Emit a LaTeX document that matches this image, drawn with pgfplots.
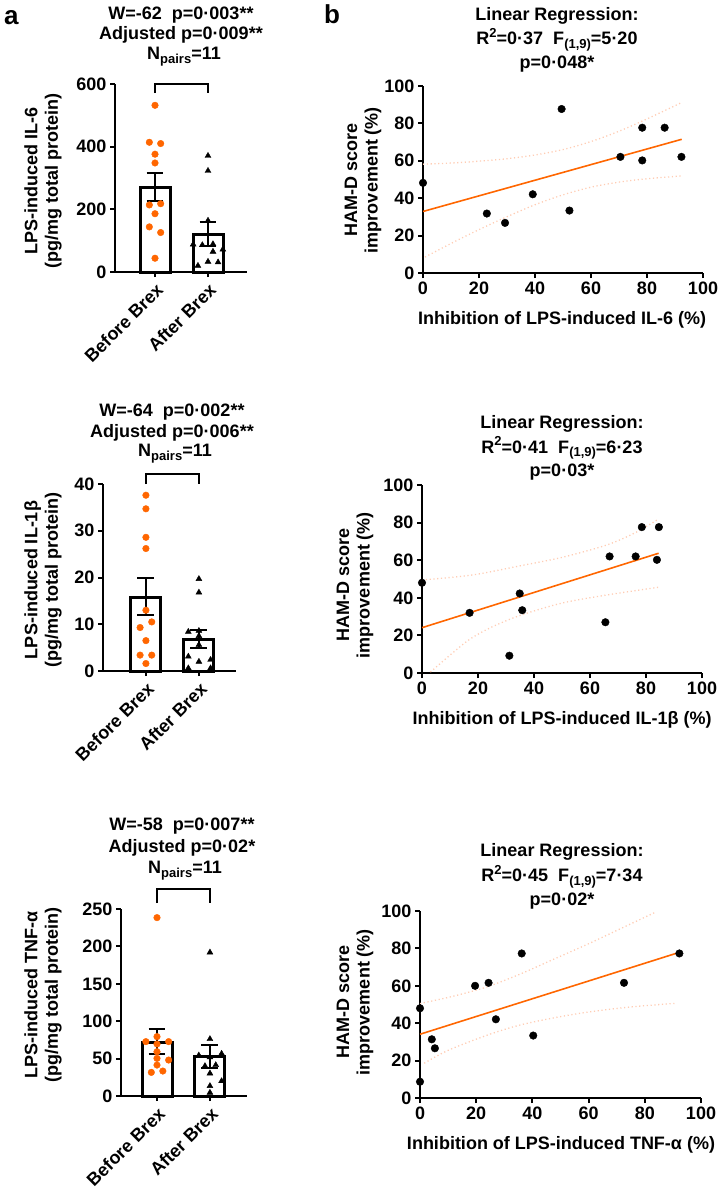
\documentclass[border=0pt]{standalone}
\usepackage{fontspec}
\setmainfont{Liberation Sans}
\usepackage{pgfplots}
\pgfplotsset{compat=1.18}
\definecolor{org}{RGB}{255,102,0}
\definecolor{band}{RGB}{255,205,180}
\newcommand{\tf}{\fontsize{18}{20.5}\selectfont\bfseries}
\newcommand{\sub}[1]{\raisebox{-0.4ex}{\fontsize{13}{13}\selectfont\bfseries #1}}
\newcommand{\sps}[1]{\raisebox{0.8ex}{\fontsize{13}{13}\selectfont\bfseries #1}}
\pgfplotsset{
 common/.style={scale only axis, axis lines=left, axis line style={-, line width=2pt},
   tick style={line width=2pt, black}, tick align=outside, major tick length=5pt,
   tick label style={font=\tf}, /pgf/number format/assume math mode=true,
   clip=false, anchor=south west},
 barax/.style={common, xtick={0,1}, xticklabels={Before Brex, After Brex},
   xticklabel style={rotate=45, anchor=north east, font=\tf}, ymin=0},
 scat/.style={common, xmin=0, xmax=100, ymin=0, ymax=100,
   xtick={0,20,...,100}, ytick={0,20,...,100}},
 bar/.style={ybar, bar width=30pt, fill=white, draw=black, line width=3pt},
 dotsO/.style={only marks, mark=*, mark size=3.3pt, color=org},
 tris/.style={only marks, mark=triangle*, mark size=3.4pt, color=black},
 eb/.style={black, line width=2pt},
 dotsK/.style={only marks, mark=*, mark size=3.8pt, color=black},
 reg/.style={org, line width=1.6pt},
 bnd/.style={band, dash pattern=on 1.2pt off 2.6pt, line width=1.3pt, smooth},
}
\begin{document}
\begin{tikzpicture}
\useasboundingbox (0pt,0pt) rectangle (719pt,-1193pt);

% ---------------- a1 IL-6 ----------------
\begin{axis}[barax, at={(115pt,-272pt)}, width=132pt, height=188pt,
  xmin=-0.755, xmax=1.736, ymax=600, ytick={0,200,400,600}]
\addplot[bar] coordinates {(0,270) (1,121)};
\addplot[dotsO] coordinates {(0,532) (-0.107,414) (0.107,410) (0,376) (0,348) (0.107,218) (-0.107,214) (0,186) (-0.107,144) (0.107,126) (0,44)};
\addplot[tris] coordinates {(1,371) (1,323) (1,164) (0.72,88) (0.893,86) (1.094,89) (1.28,72) (1.094,65) (0.81,20) (1,33) (1.19,31)};
\addplot[eb] coordinates {(0,226) (0,316)};
\addplot[eb] coordinates {(-0.16,316) (0.16,316)};
\addplot[eb] coordinates {(-0.16,226) (0.16,226)};
\addplot[eb] coordinates {(1,84) (1,158)};
\addplot[eb] coordinates {(0.84,158) (1.16,158)};
\addplot[eb] coordinates {(0.84,84) (1.16,84)};
\addplot[eb] coordinates {(0,571) (0,600) (1,600) (1,571)};
\end{axis}

% ---------------- a2 IL-1b ----------------
\begin{axis}[barax, at={(103pt,-671pt)}, width=133pt, height=187pt,
  xmin=-0.81, xmax=1.70, ymax=40, ytick={0,10,20,30,40}]
\addplot[bar] coordinates {(0,15.8) (1,6.8)};
\addplot[dotsO] coordinates {(0,37.6) (0,34.7) (0,28.6) (0,26.2) (0,13.0) (0.11,10.5) (-0.11,9.3) (0,6.5) (-0.11,3.4) (0.11,3.4) (0,1.6)};
\addplot[tris] coordinates {(1,19.7) (1,16.8) (0.8,8.4) (1,8.6) (1,7.5) (1,5.6) (0.8,3.1) (1,2.0) (1.22,2.4) (0.8,0.6) (1.22,0.6)};
\addplot[eb] coordinates {(0,11.9) (0,20.0)};
\addplot[eb] coordinates {(-0.16,20.0) (0.16,20.0)};
\addplot[eb] coordinates {(-0.16,11.9) (0.16,11.9)};
\addplot[eb] coordinates {(1,4.9) (1,8.8)};
\addplot[eb] coordinates {(0.84,8.8) (1.16,8.8)};
\addplot[eb] coordinates {(0.84,4.9) (1.16,4.9)};
\addplot[eb] coordinates {(0,40) (0,42.1) (1,42.1) (1,40)};
\end{axis}

% ---------------- a3 TNF-a ----------------
\begin{axis}[barax, at={(121pt,-1096pt)}, width=126pt, height=187pt,
  xmin=-0.68, xmax=1.70, ymax=250, ytick={0,50,100,150,200,250}]
\addplot[bar] coordinates {(0,72) (1,53)};
\addplot[dotsO] coordinates {(0,238.5) (-0.21,72.7) (0,79.4) (0.22,72.7) (0,69.5) (0,59.2) (0,50.3) (0.22,48.1) (0,41.4) (-0.107,31.6) (0.11,33.4)};
\addplot[tris] coordinates {(1,192) (1,76.2) (0.79,54.3) (1.22,56.6) (1,52) (0.906,40.1) (1.11,41.4) (1,30.3) (1.22,20.0) (1,13.4) (1,4.5)};
\addplot[eb] coordinates {(0,55.8) (0,90)};
\addplot[eb] coordinates {(-0.16,90) (0.16,90)};
\addplot[eb] coordinates {(-0.16,55.8) (0.16,55.8)};
\addplot[eb] coordinates {(1,38) (1,68)};
\addplot[eb] coordinates {(0.84,68) (1.16,68)};
\addplot[eb] coordinates {(0.84,38) (1.16,38)};
\addplot[eb] coordinates {(0,258) (0,276.7) (1,276.7) (1,258)};
\end{axis}

% ---------------- b1 ----------------
\begin{axis}[scat, at={(423pt,-273pt)}, width=280pt, height=187pt]
\addplot[bnd] coordinates {(0,58.2) (10,58.8) (20,59.8) (30,61.1) (40,63.1) (50,66.0) (60,70.3) (70,75.8) (80,82.4) (92.3,91.1)};
\addplot[bnd] coordinates {(0.7,8.5) (10,15.8) (20,23.2) (30,30.1) (40,36.5) (50,41.8) (60,45.9) (70,48.6) (80,50.4) (92.3,51.9)};
\addplot[reg] coordinates {(0,32.9) (92.4,71.5)};
\addplot[dotsK] coordinates {(0,48.2) (22.8,31.8) (29.3,26.8) (39.2,42.1) (49.5,87.7) (52.3,33.4) (70.5,62.1) (78.3,77.7) (78.3,60.2) (86.3,77.7) (92.3,62.1)};
\end{axis}

% ---------------- b2 ----------------
\begin{axis}[scat, at={(422pt,-673pt)}, width=280pt, height=188pt]
\addplot[bnd] coordinates {(0,49.5) (10,50.8) (20,52.6) (35,57.0) (50,61.5) (66,68.1) (76,74.5) (84.4,81.8)};
\addplot[bnd] coordinates {(3,0.5) (10,9.5) (17.1,18.0) (25,24.5) (35,30.6) (50,37.2) (66,41.5) (84.4,45.6)};
\addplot[reg] coordinates {(0,24.1) (84.5,63.7)};
\addplot[dotsK] coordinates {(0,48.0) (17.0,32.0) (31.2,9.2) (34.9,42.3) (35.8,33.4) (65.5,27.0) (67.0,62.0) (76.3,62.0) (78.5,77.6) (83.9,60.2) (84.6,77.6)};
\end{axis}

% ---------------- b3 ----------------
\begin{axis}[scat, at={(420pt,-1098pt)}, width=281pt, height=187pt]
\addplot[bnd] coordinates {(0,50.5) (12,54.5) (24,59.5) (36,66.5) (48,74.5) (60,82.5) (72,91) (84,99.5)};
\addplot[bnd] coordinates {(1.5,18.6) (10,25.5) (23.7,33.5) (35,38.8) (47.4,42.8) (60,46) (75,48.7) (90.7,50.6)};
\addplot[reg] coordinates {(0,34.1) (92.3,77.9)};
\addplot[dotsK] coordinates {(0,48.0) (0,8.7) (4.2,31.4) (5.3,26.6) (19.6,60.0) (24.4,61.6) (27.0,42.1) (36.2,77.3) (40.3,33.4) (72.6,61.6) (92.3,77.3)};
\end{axis}

% ---------------- text ----------------
\begin{scope}[every node/.style={font=\tf, inner sep=0pt}]
\node[font=\fontsize{26}{26}\selectfont\bfseries, anchor=base west] at (4pt,-25pt) {a};
\node[font=\fontsize{26}{26}\selectfont\bfseries, anchor=base west] at (324pt,-24pt) {b};
% a titles
\node[anchor=base] at (181pt,-20pt) {W=-62\ \ p=0·003**};
\node[anchor=base] at (181pt,-40pt) {Adjusted p=0·009**};
\node[anchor=base] at (184pt,-60pt) {N\sub{pairs}=11};
\node[anchor=base] at (172pt,-416.7pt) {W=-64\ \ p=0·002**};
\node[anchor=base] at (172pt,-437.3pt) {Adjusted p=0·006**};
\node[anchor=base] at (175pt,-456.7pt) {N\sub{pairs}=11};
\node[anchor=base] at (182pt,-830.7pt) {W=-58\ \ p=0·007**};
\node[anchor=base] at (182pt,-852.7pt) {Adjusted p=0·02*};
\node[anchor=base] at (185pt,-873.3pt) {N\sub{pairs}=11};
% b titles
\node[anchor=base] at (557pt,-20.7pt) {Linear Regression:};
\node[anchor=base] at (557pt,-45pt) {R\sps{2}=0·37\ \ F\sub{(1,9)}=5·20};
\node[anchor=base] at (557pt,-68.3pt) {p=0·048*};
\node[anchor=base] at (562pt,-428.3pt) {Linear Regression:};
\node[anchor=base] at (562pt,-453pt) {R\sps{2}=0·41\ \ F\sub{(1,9)}=6·23};
\node[anchor=base] at (562pt,-476.7pt) {p=0·03*};
\node[anchor=base] at (562pt,-856.7pt) {Linear Regression:};
\node[anchor=base] at (562pt,-881.7pt) {R\sps{2}=0·45\ \ F\sub{(1,9)}=7·34};
\node[anchor=base] at (562pt,-905pt) {p=0·02*};
% a y labels
\node[rotate=90, align=center] at (43pt,-181pt) {LPS-induced IL-6\\(pg/mg total protein)};
\node[rotate=90, align=center] at (43pt,-580pt) {LPS-induced IL-1β\\(pg/mg total protein)};
\node[rotate=90, align=center] at (43pt,-995pt) {LPS-induced TNF-α\\(pg/mg total protein)};
% b y labels
\node[rotate=90, align=center] at (363pt,-180pt) {HAM-D score\\improvement (\%)};
\node[rotate=90, align=center] at (355pt,-585pt) {HAM-D score\\improvement (\%)};
\node[rotate=90, align=center] at (355pt,-1002pt) {HAM-D score\\improvement (\%)};
% b x labels
\node at (562pt,-320pt) {Inhibition of LPS-induced IL-6 (\%)};
\node at (562pt,-720pt) {Inhibition of LPS-induced IL-1β (\%)};
\node at (561pt,-1145pt) {Inhibition of LPS-induced TNF-α (\%)};
\end{scope}
\end{tikzpicture}
\end{document}
